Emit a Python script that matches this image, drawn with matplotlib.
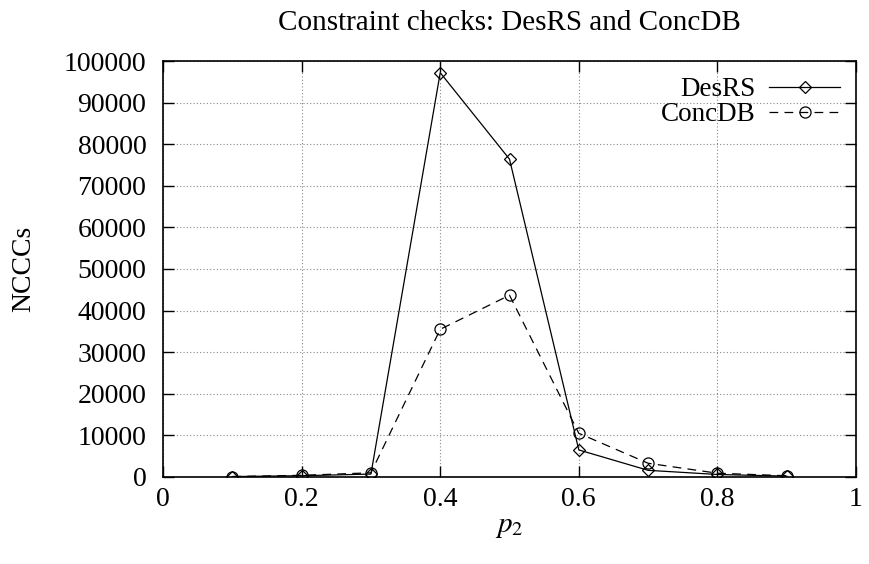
import matplotlib
matplotlib.use("Agg")
import matplotlib.pyplot as plt

# p2 values and constraint-check counts for each algorithm
p2 = [0.1, 0.2, 0.3, 0.4, 0.5, 0.6, 0.7, 0.8, 0.9]
desrs = [100, 300, 700, 97200, 76400, 6500, 1600, 600, 200]
concdb = [100, 400, 1000, 35500, 43700, 10500, 3300, 900, 300]

x_ticks = [0, 0.2, 0.4, 0.6, 0.8, 1]
y_ticks = list(range(0, 100001, 10000))

plt.rcParams["font.family"] = ["Liberation Serif", "DejaVu Serif"]
plt.rcParams["mathtext.fontset"] = "stix"

fig = plt.figure(figsize=(8.7, 5.64), dpi=100)
ax = fig.add_axes([0.1874, 0.1543, 0.7965, 0.7375])

ax.plot(p2, desrs, color="black", linewidth=0.9, marker="D", markersize=6,
        markerfacecolor="none", markeredgecolor="black", markeredgewidth=0.9,
        label="DesRS")
ax.plot(p2, concdb, color="black", linewidth=0.9, linestyle=(0, (7, 5)),
        marker="o", markersize=8, markerfacecolor="none",
        markeredgecolor="black", markeredgewidth=0.9, label="ConcDB")

ax.set_xlim(0, 1)
ax.set_ylim(0, 100000)
ax.set_xticks(x_ticks)
ax.set_xticklabels(["0", "0.2", "0.4", "0.6", "0.8", "1"])
ax.set_yticks(y_ticks)
ax.set_yticklabels([str(v) for v in y_ticks])

ax.tick_params(direction="in", length=8, width=1, labelsize=20,
               top=True, right=True)
ax.tick_params(axis="y", pad=12)
ax.tick_params(axis="x", pad=7)
for s in ax.spines.values():
    s.set_linewidth(1.2)

ax.grid(True, color="#888888", linestyle=(0, (1, 2)), linewidth=0.8)

ax.set_xlabel(r"$p_2$", fontsize=21, labelpad=2)
ax.set_ylabel("NCCCs", fontsize=20, labelpad=20)
ax.set_title("Constraint checks: DesRS and ConcDB", fontsize=21, pad=22)

leg = ax.legend(loc="upper right", frameon=False, markerfirst=False,
                fontsize=19.5, handlelength=2.6, handletextpad=0.5,
                borderaxespad=0.3, borderpad=0.3, labelspacing=0.0)
for t in leg.get_texts():
    t.set_ha("right")

fig.savefig("out.png", dpi=100)
